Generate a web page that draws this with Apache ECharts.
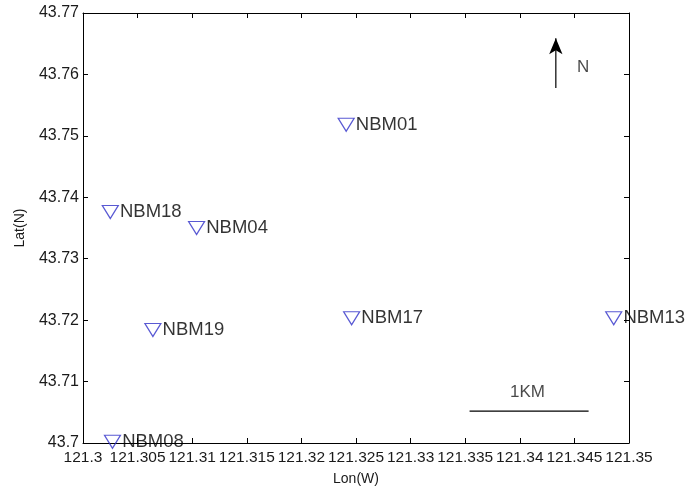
<!DOCTYPE html>
<html><head><meta charset="utf-8">
<script src="https://cdn.jsdelivr.net/npm/echarts@6/dist/echarts.min.js"></script>
<style>html,body{margin:0;padding:0;background:#fff}#c{width:692px;height:491px}</style>
</head><body><div id="c"></div>
<script>
var stations = ['NBM01','NBM04','NBM08','NBM13','NBM17','NBM18','NBM19'];
var stationLon = [121.3241, 121.3104, 121.3027, 121.3486, 121.3246, 121.3025, 121.3064];
var stationLat = [43.7518, 43.7350, 43.7002, 43.7203, 43.7203, 43.7376, 43.7184];
var xTicks = [121.3,121.305,121.31,121.315,121.32,121.325,121.33,121.335,121.34,121.345,121.35];
var yTicks = [43.7,43.71,43.72,43.73,43.74,43.75,43.76,43.77];
var arrowLon = [121.3433, 121.3433];
var arrowLat = [43.7578, 43.7659];
var northLabel = {text:'N', lon:121.3458, lat:43.7612};
var scaleLon = [121.3354, 121.3463];
var scaleLat = [43.7052, 43.7052];
var scaleLabel = {text:'1KM', lon:121.3407, lat:43.7083};

var FONT = 'Liberation Sans';
var axisCol = '#000';
function fmtX(v){ return String(+v.toFixed(3)); }
function fmtY(v){ return String(+v.toFixed(2)); }

var xBase = {type:'value', min:xTicks[0], max:xTicks[xTicks.length-1], interval:0.005,
  splitLine:{show:false}, axisLine:{show:true,onZero:false,lineStyle:{color:axisCol,width:1}},
  axisTick:{show:true,inside:true,length:5,lineStyle:{color:axisCol}}};
var yBase = {type:'value', min:yTicks[0], max:yTicks[yTicks.length-1], interval:0.01,
  splitLine:{show:false}, axisLine:{show:true,onZero:false,lineStyle:{color:axisCol,width:1}},
  axisTick:{show:true,inside:true,length:5,lineStyle:{color:axisCol}}};

var stationData = stations.map(function(n,i){ return {name:n, value:[stationLon[i], stationLat[i]]}; });
var annLabel = {show:true, position:'inside', formatter:'{b}', fontFamily:FONT, fontSize:17, color:'#1a1a1a'};

var chart = echarts.init(document.getElementById('c'), null, {renderer:'canvas'});
chart.setOption({
  backgroundColor:'#fff',
  animation:false,
  grid:{left:83, top:13, right:63, bottom:48, containLabel:false},
  xAxis:[
    Object.assign({}, xBase, {position:'bottom', name:'Lon(W)', nameLocation:'middle', nameGap:29,
      nameTextStyle:{fontFamily:FONT,fontSize:14,color:'#1a1a1a'},
      axisLabel:{show:true, margin:7, formatter:fmtX, fontFamily:FONT, fontSize:15.5, color:'#1a1a1a', hideOverlap:false, showMinLabel:true, showMaxLabel:true}}),
    Object.assign({}, xBase, {position:'top', axisLabel:{show:false}})
  ],
  yAxis:[
    Object.assign({}, yBase, {position:'left', name:'Lat(N)', nameLocation:'middle', nameGap:56, nameRotate:90,
      nameTextStyle:{fontFamily:FONT,fontSize:14,color:'#1a1a1a'},
      axisLabel:{show:true, margin:4, formatter:fmtY, fontFamily:FONT, fontSize:16, color:'#1a1a1a', showMinLabel:true, showMaxLabel:true}}),
    Object.assign({}, yBase, {position:'right', axisLabel:{show:false}})
  ],
  series:[
    {type:'scatter', xAxisIndex:0, yAxisIndex:0, data:stationData,
      symbol:'path://M0,0 L20,0 L10,16 Z', symbolSize:[16,13],
      itemStyle:{color:'rgba(0,0,0,0)', borderColor:'#3030c8', borderWidth:1.2},
      label:{show:true, position:'right', distance:1, formatter:'{b}', fontFamily:FONT, fontSize:18.5, color:'#000'}},
    {type:'line', xAxisIndex:0, yAxisIndex:0,
      data:[{value:[arrowLon[0],arrowLat[0]], symbol:'none'},{value:[arrowLon[1],arrowLat[1]], symbol:'arrow', symbolSize:[10,16]}],
      lineStyle:{color:'#000',width:1.2}, itemStyle:{color:'#000'}, showSymbol:true},
    {type:'line', xAxisIndex:0, yAxisIndex:0, symbol:'none',
      data:[[scaleLon[0],scaleLat[0]],[scaleLon[1],scaleLat[1]]],
      lineStyle:{color:'#000',width:1.2}},
    {type:'scatter', xAxisIndex:0, yAxisIndex:0, symbol:'circle', symbolSize:2,
      itemStyle:{color:'rgba(0,0,0,0)'},
      data:[{name:northLabel.text, value:[northLabel.lon,northLabel.lat], label:annLabel},
            {name:scaleLabel.text, value:[scaleLabel.lon,scaleLabel.lat], label:annLabel}],
      label:annLabel}
  ]
});
</script></body></html>
